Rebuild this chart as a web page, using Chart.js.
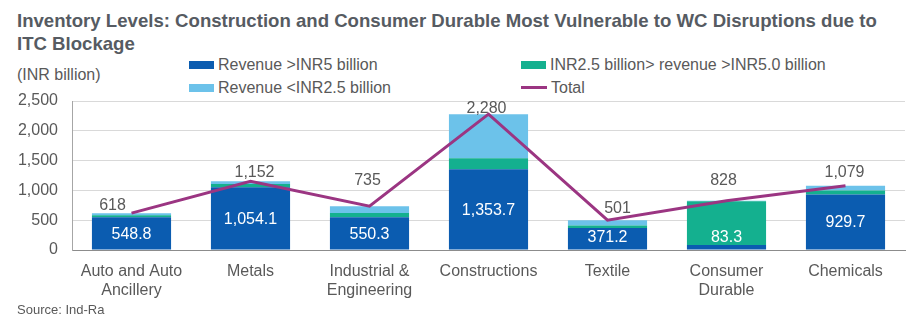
<!DOCTYPE html>
<html>
<head>
<meta charset="utf-8">
<script src="https://cdn.jsdelivr.net/npm/chart.js@4.4.1/dist/chart.umd.min.js"></script>
<style>
  body{margin:0;width:921px;height:329px;background:#fff;position:relative;overflow:hidden;
       font-family:"Liberation Sans",Arial,sans-serif;color:#595959}
  #title{position:absolute;left:17px;top:9px;font-weight:bold;font-size:18.6px;line-height:23px;color:#565b62}
  #unit{position:absolute;left:17px;top:66px;font-size:16px}
  #source{position:absolute;left:17px;top:302px;font-size:13px}
  .lg{position:absolute;font-size:16px;line-height:18px;white-space:nowrap}
  .lg i{display:inline-block;vertical-align:middle;margin-right:4px;margin-top:-2px}
  canvas{position:absolute;left:0;top:0}
</style>
</head>
<body>
<div id="title">Inventory Levels: Construction and Consumer Durable Most Vulnerable to WC Disruptions due to<br>ITC Blockage</div>
<div id="unit">(INR billion)</div>
<div id="legend"></div>
<canvas id="c" width="921" height="329"></canvas>
<div id="source">Source: Ind-Ra</div>
<script>
// categories
const sectors = [['Auto and Auto','Ancillery'], 'Metals', ['Industrial &','Engineering'], 'Constructions', 'Textile', ['Consumer','Durable'], 'Chemicals'];
// series (INR billion)
const bigRevenue   = [548.8, 1054.1, 550.3, 1353.7, 371.2, 83.3, 929.7];
const midRevenue   = [34, 55, 70, 185, 40, 735, 70];
const smallRevenue = [35, 43, 115, 741, 90, 10, 79];
const total        = [618, 1152, 735, 2280, 501, 828, 1079];
const seriesNames  = ['Revenue >INR5 billion', 'INR2.5 billion> revenue >INR5.0 billion', 'Revenue <INR2.5 billion', 'Total'];
const yTicks = [0, 500, 1000, 1500, 2000, 2500];

const colors = ['#0b5cb0', '#14b08f', '#6cc2ea', '#9b3582'];

// legend laid out like the original (2 x 2)
const legendSpots = [[189, 56], [521, 56], [189, 79], [521, 79]];
const legendEl = document.getElementById('legend');
seriesNames.forEach((name, i) => {
  const d = document.createElement('div');
  d.className = 'lg';
  d.style.left = legendSpots[i][0] + 'px';
  d.style.top = legendSpots[i][1] + 'px';
  const mark = document.createElement('i');
  mark.style.background = colors[i];
  mark.style.width = (i === 3 ? 26 : 25) + 'px';
  mark.style.height = (i === 3 ? 3 : 8) + 'px';
  d.appendChild(mark);
  d.appendChild(document.createTextNode(name));
  legendEl.appendChild(d);
});

const fmt1 = v => v.toLocaleString('en-US', {minimumFractionDigits:1, maximumFractionDigits:1});
const fmt0 = v => v.toLocaleString('en-US');

// value labels drawn after datasets
const valueLabels = {
  id: 'valueLabels',
  afterDatasetsDraw(chart, args, opts) {
    const ctx = chart.ctx;
    ctx.save();
    ctx.textAlign = 'center';
    ctx.textBaseline = 'middle';
    ctx.font = '16px "Liberation Sans", Arial, sans-serif';
    ctx.fillStyle = '#ffffff';
    chart.getDatasetMeta(0).data.forEach((bar, i) => {
      const y = Math.min((bar.y + bar.base) / 2 + 1, bar.base - 12);
      ctx.fillText(fmt1(bigRevenue[i]), bar.x, y);
    });
    ctx.fillStyle = '#595959';
    chart.getDatasetMeta(3).data.forEach((pt, i) => {
      const n = opts.nudge[i];
      ctx.fillText(fmt0(total[i]), pt.x + n[0], pt.y - n[1]);
    });
    ctx.restore();
  }
};

new Chart(document.getElementById('c'), {
  data: {
    labels: sectors,
    datasets: [
      {type:'bar', label:seriesNames[0], data:bigRevenue, backgroundColor:colors[0], stack:'rev', order:2},
      {type:'bar', label:seriesNames[1], data:midRevenue, backgroundColor:colors[1], stack:'rev', order:2},
      {type:'bar', label:seriesNames[2], data:smallRevenue, backgroundColor:colors[2], stack:'rev', order:2},
      {type:'line', label:seriesNames[3], data:total, borderColor:colors[3], borderWidth:3,
       pointRadius:0, tension:0, stack:'tot', order:1}
    ]
  },
  options: {
    responsive: false,
    animation: false,
    events: [],
    layout: {padding: {left: 0, right: 16, top: 101, bottom: 0}},
    datasets: {bar: {barPercentage: 0.665, categoryPercentage: 1}},
    plugins: {
      legend: {display: false},
      tooltip: {enabled: false},
      valueLabels: {nudge: [[-19, 8], [4, 9], [-2, 26], [-2, 6], [10, 12], [-3, 20], [-1, 13]]}
    },
    scales: {
      x: {
        stacked: true,
        grid: {display: false},
        border: {color: '#8c8c8c', width: 1},
        ticks: {color: '#595959', font: {family: '"Liberation Sans", Arial, sans-serif', size: 16, lineHeight: 1.18},
                padding: 4, maxRotation: 0, autoSkip: false},
        afterFit: s => { s.height = 79; }
      },
      y: {
        stacked: true,
        min: 0, max: 2500,
        afterBuildTicks: s => { s.ticks = yTicks.map(v => ({value: v})); },
        grid: {color: '#d9d9d9', drawTicks: false},
        border: {color: '#a6a6a6', width: 1},
        ticks: {color: '#595959', font: {family: '"Liberation Sans", Arial, sans-serif', size: 16},
                padding: 14, callback: v => fmt0(v)},
        afterFit: s => { s.width = 72; }
      }
    }
  },
  plugins: [valueLabels]
});
</script>
</body>
</html>
